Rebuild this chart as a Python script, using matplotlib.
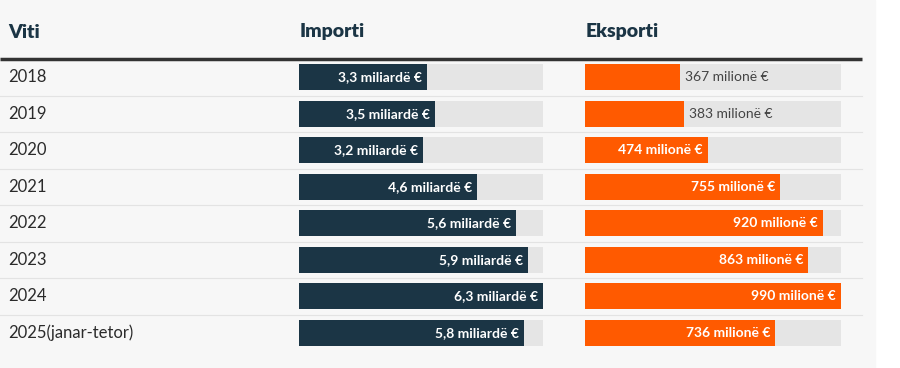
import matplotlib.pyplot as plt
import matplotlib.patches as patches

years = ["2018", "2019", "2020", "2021", "2022", "2023", "2024", "2025(janar-tetor)"]
imports_bn = [3.3, 3.5, 3.2, 4.6, 5.6, 5.9, 6.3, 5.8]
exports_mn = [367, 383, 474, 755, 920, 863, 990, 736]
headers = ["Viti", "Importi", "Eksporti"]

navy = "#1b3545"
orange = "#ff5a00"
track = "#e5e5e5"
bg = "#f7f7f7"
ink = "#2b2b2b"
plt.rcParams['font.family'] = ['Lato', 'DejaVu Sans']

W, H = 900, 368
fig = plt.figure(figsize=(W / 100, H / 100), dpi=100)
fig.patch.set_facecolor("white")

# base layer in pixel units
base = fig.add_axes([0, 0, 1, 1])
base.set_xlim(0, W)
base.set_ylim(H, 0)
base.axis("off")
base.add_patch(patches.Rectangle((0, 0), 875, H, color=bg, zorder=0))

top, pitch = 59, 36.5
n = len(years)
for x, h in zip([8, 300, 586], headers):
    base.text(x, 32, h, fontsize=14, fontweight="heavy", color=navy, va="center")
base.plot([0, 862], [top, top], color="#333333", lw=2.5, solid_capstyle="butt")
for k in range(1, n):
    base.plot([0, 862], [top + k * pitch] * 2, color="#e3e3e3", lw=0.8)
for i, y in enumerate(years):
    base.text(8, top + (i + 0.5) * pitch, y, fontsize=12, color=ink, va="center")

def bar_axes(x0, width):
    ax = fig.add_axes([x0 / W, 1 - (top + n * pitch) / H, width / W, n * pitch / H])
    ax.set_ylim(n - 0.5, -0.5)
    ax.axis("off")
    return ax

ax_i = bar_axes(299, 244)
ax_e = bar_axes(585, 256)

def draw(ax, vals, color, labels, vmax, thresh):
    rows = range(len(vals))
    ax.set_xlim(0, vmax)
    ax.barh(rows, [vmax] * len(vals), height=0.71, color=track)
    ax.barh(rows, vals, height=0.71, color=color)
    for r, v, lab in zip(rows, vals, labels):
        if v / vmax >= thresh:
            ax.annotate(lab, (v, r), xytext=(-5, 0), textcoords="offset pixels",
                        ha="right", va="center", color="white", fontsize=10, fontweight="bold")
        else:
            ax.annotate(lab, (v, r), xytext=(5, 0), textcoords="offset pixels",
                        ha="left", va="center", color="#444444", fontsize=10)

imp_labels = [f"{v:.1f}".replace(".", ",") + " miliardë €" for v in imports_bn]
exp_labels = [f"{v} milionë €" for v in exports_mn]
draw(ax_i, imports_bn, navy, imp_labels, max(imports_bn), 0.45)
draw(ax_e, exports_mn, orange, exp_labels, max(exports_mn), 0.45)

fig.savefig("out.png", dpi=100, facecolor=fig.get_facecolor())
